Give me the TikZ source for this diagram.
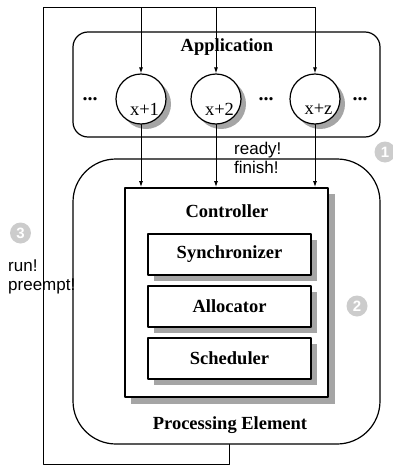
\documentclass[tikz,border=0pt]{standalone}
\usepackage{fontspec}
\setmainfont{Liberation Serif}
\setsansfont{Liberation Sans}
\usetikzlibrary{arrows.meta}

\begin{document}
\begin{tikzpicture}[x=1pt, y=-1pt, line cap=round, line join=round,
  every node/.style={inner sep=0pt},
  >={Latex[length=6pt,width=4pt]},
  title/.style={font=\fontsize{18.5}{20}\selectfont\bfseries},
  dots/.style={font=\fontsize{20}{20}\selectfont\bfseries, anchor=base},
  note/.style={font=\sffamily\fontsize{17}{19}\selectfont, align=left, anchor=west},
  task/.style={circle, draw, line width=1.2pt, fill=white, minimum size=50pt},
  unit/.style={draw, line width=1.5pt, fill=white, minimum width=163pt, minimum height=41pt, title},
  badge/.style={circle, fill=gray!40, text=white, minimum size=21pt, font=\sffamily\bfseries\fontsize{15}{15}\selectfont}]
  \definecolor{shadowgray}{RGB}{165,165,165}
  \useasboundingbox (0,0) rectangle (393,466);
  \coordinate (tl) at (43.5,7.5);
  \coordinate (bl) at (43.5,464.5);
  \coordinate (out) at (229,464.5);
  \node[draw, line width=1.2pt, rounded corners=15pt, minimum width=307pt, minimum height=105pt] (app) at (226.5,84.5) {};
  \node[title] (apptitle) at (227,47) {Application};
  \node[draw, line width=1.2pt, rounded corners=43pt, minimum width=307pt, minimum height=285pt] (pe) at (226.5,301.5) {};
  \node[title] (petitle) at (230,425) {Processing Element};
  \path[fill=shadowgray] (131,194) -- (335,194) -- (335,404) -- (131,404) -- cycle;
  \node[draw, line width=1.8pt, fill=white, minimum width=203pt, minimum height=209pt] (ctrl) at (226.5,292.5) {};
  \node[title] (ctrltitle) at (227,211) {Controller};
  \path[fill=shadowgray] (154,240) -- (317,240) -- (317,281) -- (154,281) -- cycle;
  \path[fill=shadowgray] (154,292) -- (317,292) -- (317,333) -- (154,333) -- cycle;
  \path[fill=shadowgray] (154,344) -- (317,344) -- (317,385) -- (154,385) -- cycle;
  \node[unit] (sync) at (229.5,254.5) {Synchronizer};
  \node[unit] (alloc) at (229.5,306.5) {Allocator};
  \node[unit] (sched) at (229.5,358.5) {Scheduler};
  \path[fill=shadowgray] (146,104) circle[radius=25];
  \path[fill=shadowgray] (221,104) circle[radius=25];
  \path[fill=shadowgray] (320,104) circle[radius=25];
  \node[task] (c1) at (141,99) {};
  \node[task] (c2) at (216,99) {};
  \node[task] (c3) at (315,99) {};
  \node[font=\fontsize{18.5}{20}\selectfont] (t1) at (144.5,109) {x+1};
  \node[font=\fontsize{18.5}{20}\selectfont] (t2) at (219.5,109) {x+2};
  \node[font=\fontsize{18.5}{20}\selectfont] (t3) at (318.5,109) {x+z};
  \node[dots] (d1) at (90,100) {...};
  \node[dots] (d2) at (266,100) {...};
  \node[dots] (d3) at (360,100) {...};
  \draw[line width=1pt] (pe.south -| out) -- (out) -- (bl) -- (tl) -- (c3 |- tl);
  \draw[->, line width=1pt] (c1 |- tl) -- (c1.north);
  \draw[->, line width=1pt] (c2 |- tl) -- (c2.north);
  \draw[->, line width=1pt] (c3 |- tl) -- (c3.north);
  \draw[->, line width=1pt] (c1.south) -- (c1 |- ctrl.north);
  \draw[->, line width=1pt] (c2.south) -- (c2 |- ctrl.north);
  \draw[->, line width=1pt] (c3.south) -- (c3 |- ctrl.north);
  \node[note] (ready) at (234,158) {ready!\\finish!};
  \node[note] (run) at (8,277) {run!\\preempt!};
  \node[badge] (b1) at (385,152) {1};
  \node[badge] (b2) at (357,306) {2};
  \node[badge] (b3) at (20.5,233) {3};
\end{tikzpicture}
\end{document}
